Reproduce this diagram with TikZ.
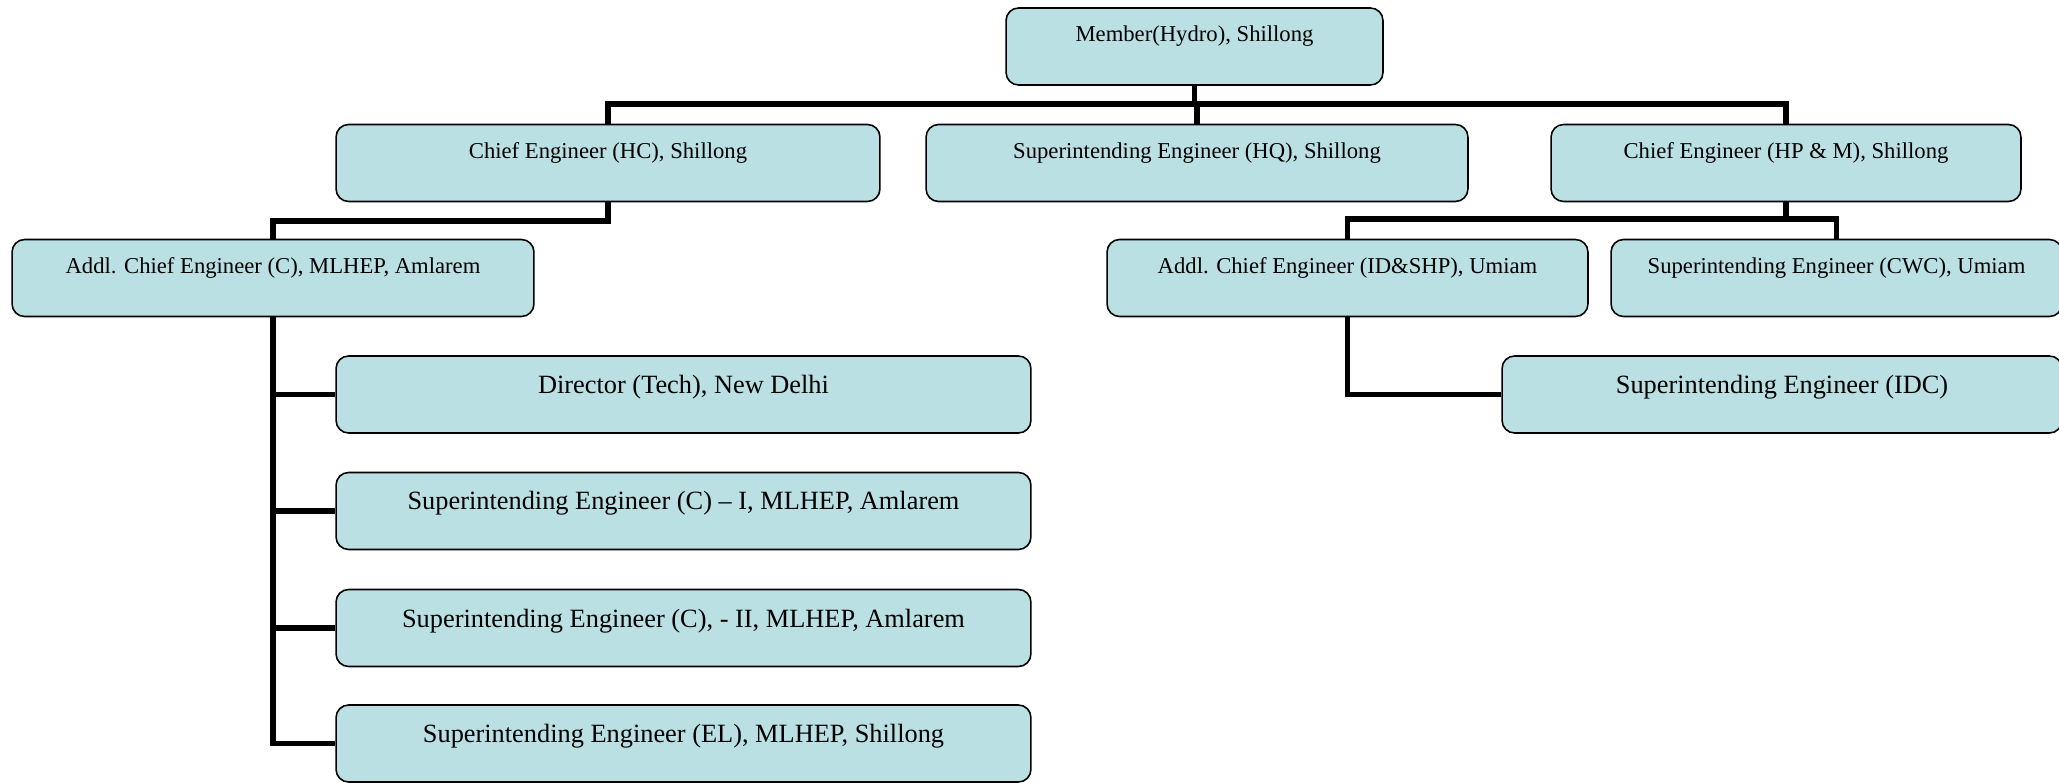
\documentclass[tikz,border=0pt]{standalone}
\usepackage{fontspec}
\setmainfont{Liberation Serif}
\definecolor{boxblue}{RGB}{186,224,227}
\begin{document}
\begin{tikzpicture}[x=0.02cm,y=-0.02cm,
				box/.style={draw,fill=boxblue,rounded corners=0.25cm,line width=0.9pt,
					inner sep=0pt,font=\fontsize{12.9}{14}\selectfont,
					text height=0.68cm,text depth=0.86cm},
				bigbox/.style={box,font=\fontsize{15}{18}\selectfont,
					text height=0.75cm,text depth=0.79cm},
				wire/.style={line width=0.11cm}]
\useasboundingbox (0,0) rectangle (2059,783);
% top two levels
\node[box,minimum width=7.54cm] (mem) at (1194.5,46.5) {Member(Hydro), Shillong};
\node[box,minimum width=10.88cm] (hc) at (608,163) {Chief Engineer (HC), Shillong};
\node[box,minimum width=10.84cm] (hq) at (1197,163) {Superintending Engineer (HQ), Shillong};
\node[box,minimum width=9.4cm] (hpm) at (1786,163) {Chief Engineer (HP \& M), Shillong};
\node[box,minimum width=10.44cm] (acc) at (273,278) {Addl. Chief Engineer (C), MLHEP, Amlarem};
\node[box,minimum width=9.62cm] (acid) at (1347.5,278) {Addl. Chief Engineer (ID\&SHP), Umiam};
\node[box,minimum width=9.02cm] (cwc) at (1836.5,278) {Superintending Engineer (CWC), Umiam};
% lower offices
\node[bigbox,minimum width=11.2cm] (idc) at (1782,394.5) {Superintending Engineer (IDC)};
\node[bigbox,minimum width=13.9cm] (dir) at (683.5,394.5) {Director (Tech), New Delhi};
\node[bigbox,minimum width=13.9cm] (sei) at (683.5,511) {Superintending Engineer (C) – I, MLHEP, Amlarem};
\node[bigbox,minimum width=13.9cm] (seii) at (683.5,628) {Superintending Engineer (C), - II, MLHEP, Amlarem};
\node[bigbox,minimum width=13.9cm] (sel) at (683.5,743.5) {Superintending Engineer (EL), MLHEP, Shillong};
% connectors
\coordinate (bus1) at (0,104);
\coordinate (bus2) at (0,221);
\coordinate (bus3) at (0,219);
\draw[wire] (mem.south) -- (mem.south |- bus1);
\draw[wire] (hq.north) -- (hq.north |- bus1);
\draw[wire] (hc.north) |- (bus1 -| hpm.north) -- (hpm.north);
\draw[wire] (hc.south) |- (bus2 -| acc.north) -- (acc.north);
\foreach \n in {dir,sei,seii,sel}
	\draw[wire] (acc.south) |- (\n.west);
\draw[wire] (hpm.south) -- (hpm.south |- bus3);
\draw[wire] (acid.north) |- (bus3 -| cwc.north) -- (cwc.north);
\draw[wire] (acid.south) |- (idc.west);
\end{tikzpicture}
\end{document}
